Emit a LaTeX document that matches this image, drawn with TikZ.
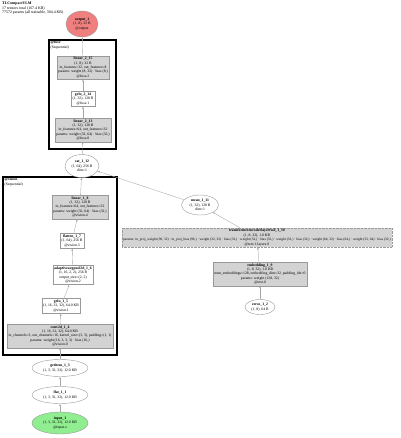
\documentclass[tikz,border=0pt]{standalone}
\usepackage{fontspec}
\setmainfont{Liberation Serif}
\usetikzlibrary{arrows.meta,positioning,fit,shapes.geometric}
\definecolor{outred}{HTML}{F08080}
\definecolor{ingreen}{HTML}{90EE90}
\definecolor{modgray}{HTML}{D3D3D3}

\begin{document}
\begin{tikzpicture}[
      x=1pt, y=-1pt,
      >={Latex[length=2.2pt,width=1.8pt]},
      font=\fontsize{3.75}{4.4}\selectfont,
      op/.style={draw=gray!80, align=center, inner sep=1.3pt, fill=white},
      mod/.style={op, fill=modgray},
      ten/.style={ellipse, draw=gray!80, align=center, inner sep=0.5pt, fill=white},
      grp/.style={draw, line width=1.3pt},
      grplabel/.style={anchor=north west, align=left, inner sep=0pt, xshift=2pt, yshift=-1.8pt},
      flow/.style={->, draw=gray!70, line width=0.35pt}
    ]
    \useasboundingbox (0,0) rectangle (400,438);
    \node[grplabel, font=\fontsize{3.9}{4.5}\selectfont] (title) at (0,0)
      {\textbf{TLCompactVLM}\\17 tensors total (167.4 KB)\\77572 params (all trainable, 304.4 KB)};

    % groups
    \node[grp, minimum width=67pt, minimum height=109pt] (fuse) at (82.5,94.5) {};
    \node[grplabel] (fuselbl) at (fuse.north west) {\textbf{@fuse}\\(Sequential)};
    \node[grp, minimum width=114pt, minimum height=178pt] (vision) at (60,266) {};
    \node[grplabel] (visionlbl) at (vision.north west) {\textbf{@vision}\\(Sequential)};

    % vision branch
    \node[ten, fill=ingreen, minimum width=56pt, minimum height=22pt] (input1) at (60,423)
      {\textbf{input\_1}\\(1, 3, 32, 32), 12.0 KB\\@input.x};
    \node[ten, minimum width=56pt, minimum height=17pt] (flat11) at (60,395)
      {\textbf{flat\_1\_1}\\(1, 3, 32, 32), 12.0 KB};
    \node[ten, minimum width=56pt, minimum height=17pt] (getitem13) at (60,368)
      {\textbf{getitem\_1\_3}\\(1, 3, 32, 32), 12.0 KB};
    \node[mod] (conv14) at (60,336)
      {\textbf{conv2d\_1\_4}\\(1, 16, 32, 32), 64.0 KB\\in\_channels=3, out\_channels=16, kernel\_size=(3, 3), padding=(1, 1)\\params: weight (16, 3, 3, 3) · bias (16,)\\@vision.0};
    \node[op] (gelu15) at (61,306)
      {\textbf{gelu\_1\_5}\\(1, 16, 32, 32), 64.0 KB\\@vision.1};
    \node[op] (pool16) at (73,275)
      {\textbf{adaptiveavgpool2d\_1\_6}\\(1, 16, 2, 2), 256 B\\output\_size=(2, 2)\\@vision.2};
    \node[op] (flatten17) at (72,241)
      {\textbf{flatten\_1\_7}\\(1, 64), 256 B\\@vision.3};
    \node[mod] (linear18) at (80,207)
      {\textbf{linear\_1\_8}\\(1, 32), 128 B\\in\_features=64, out\_features=32\\params: weight (32, 64) · bias (32,)\\@vision.4};

    % text branch
    \node[ten, minimum width=30pt, minimum height=15pt] (zeros12) at (260,307)
      {\textbf{zeros\_1\_2}\\(1, 8), 64 B};
    \node[mod] (embed19) at (260,274)
      {\textbf{embedding\_1\_9}\\(1, 8, 32), 1.0 KB\\num\_embeddings=128, embedding\_dim=32, padding\_idx=0\\params: weight (128, 32)\\@text.0};
    \node[mod, densely dotted, anchor=west, inner xsep=1pt] (tfm110) at (122,237.5)
      {\textbf{transformerencoderlayerfwd\_1\_10}\\(1, 8, 32), 1.0 KB\\{\fontsize{3.5}{4.4}\selectfont params: in\_proj\_weight (96, 32) · in\_proj\_bias (96,) · weight (32, 32) · bias (32,) · weight (32,) · bias (32,) · weight (32,) · bias (32,) · weight (64, 32) · bias (64,) · weight (32, 64) · bias (32,)}\\@text.1.layers.0};
    \node[ten, minimum width=37pt, minimum height=20pt] (mean111) at (200,205)
      {\textbf{mean\_1\_11}\\(1, 32), 128 B\\dim=1};

    % fuse branch
    \node[ten, minimum width=34pt, minimum height=23pt] (cat112) at (82,166)
      {\textbf{cat\_1\_12}\\(1, 64), 256 B\\dim=1};
    \node[mod] (linear213) at (83,130)
      {\textbf{linear\_2\_13}\\(1, 32), 128 B\\in\_features=64, out\_features=32\\params: weight (32, 64) · bias (32,)\\@fuse.0};
    \node[op] (gelu214) at (83,99)
      {\textbf{gelu\_2\_14}\\(1, 32), 128 B\\@fuse.1};
    \node[mod] (linear215) at (83,67.5)
      {\textbf{linear\_2\_15}\\(1, 8), 32 B\\in\_features=32, out\_features=8\\params: weight (8, 32) · bias (8,)\\@fuse.2};
    \node[ten, fill=outred, minimum width=32pt, minimum height=26pt] (output1) at (82,24)
      {\textbf{output\_1}\\(1, 8), 32 B\\@output};

    \draw[flow] (input1) -- (flat11);
    \draw[flow] (flat11) -- (getitem13);
    \draw[flow] (getitem13) -- (conv14);
    \draw[flow] (conv14) -- (gelu15);
    \draw[flow] (gelu15) -- (pool16);
    \draw[flow] (pool16) -- (flatten17);
    \draw[flow] (flatten17) -- (linear18);
    \draw[flow] (linear18) -- (cat112);
    \draw[flow] (zeros12) -- (embed19);
    \draw[flow] (embed19) -- (tfm110);
    \draw[flow] (tfm110) -- (mean111);
    \draw[flow] (mean111) -- (cat112);
    \draw[flow] (cat112) -- (linear213);
    \draw[flow] (linear213) -- (gelu214);
    \draw[flow] (gelu214) -- (linear215);
    \draw[flow] (linear215) -- (output1);
  \end{tikzpicture}
\end{document}
